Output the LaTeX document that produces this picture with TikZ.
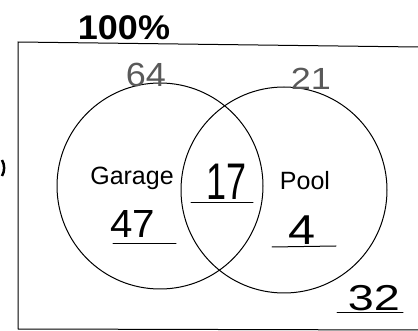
\documentclass[tikz,border=0pt]{standalone}
\usepackage{fontspec}
\setmainfont{Liberation Sans}
\newcommand{\hand}[1]{\fontsize{#1}{#1}\selectfont}
\newcommand{\penzahl}[3]{\scalebox{#1}[#2]{#3}}
\tikzset{
  setring/.style={draw, circle, line width=1pt, minimum size=206pt, inner sep=0pt},
  setname/.style={inner sep=0pt, font=\hand{25}},
  count/.style={inner sep=0pt, font=\hand{36}},
  penline/.style={line width=1pt, line cap=round}
}
\begin{document}
\begin{tikzpicture}[x=1pt, y=-1pt]
    \useasboundingbox (0,0) rectangle (418,331);

    % Rahmen
    \draw[penline] (418,47) -- (18,42) -- (18,329) -- (418,330);
    \draw[line width=2.5pt] (2,176) arc (30:-30:16);

    % Mengen
    \node[setring] (garageset) at (160,186) {};
    \node[setring] (poolset) at (284,190) {};

    % Mengennamen
    \node[setname] (garage) at (132,178) {Garage};
    \node[setname] (pool) at (305,181) {Pool};

    % Anzahlen
    \node[count] (nboth) at (227,182) {\penzahl{1}{1.43}{17}};
    \node[count] (ngarage) at (133,224) {\penzahl{1.12}{1.09}{47}};
    \node[count] (npool) at (302,230) {\penzahl{1.35}{1.16}{4}};
    \node[count] (nnone) at (374,298) {\penzahl{1.3}{1}{32}};
    \draw[penline] (191,203) -- (253,203);
    \draw[penline] (113,244) -- (176,244);
    \draw[penline] (272,247) -- (336,246);
    \draw[penline] (337,313) -- (403,313);

    % Summen
    \node[count, gray!70!black] (totalgarage) at (146,75) {\penzahl{1}{0.93}{64}};
    \node[count, gray!70!black] (totalpool) at (311,79) {\penzahl{1}{0.85}{21}};
    \node[count, font=\bfseries\hand{36}] (total) at (124,28) {\penzahl{1}{0.95}{100\%}};
\end{tikzpicture}
\end{document}
